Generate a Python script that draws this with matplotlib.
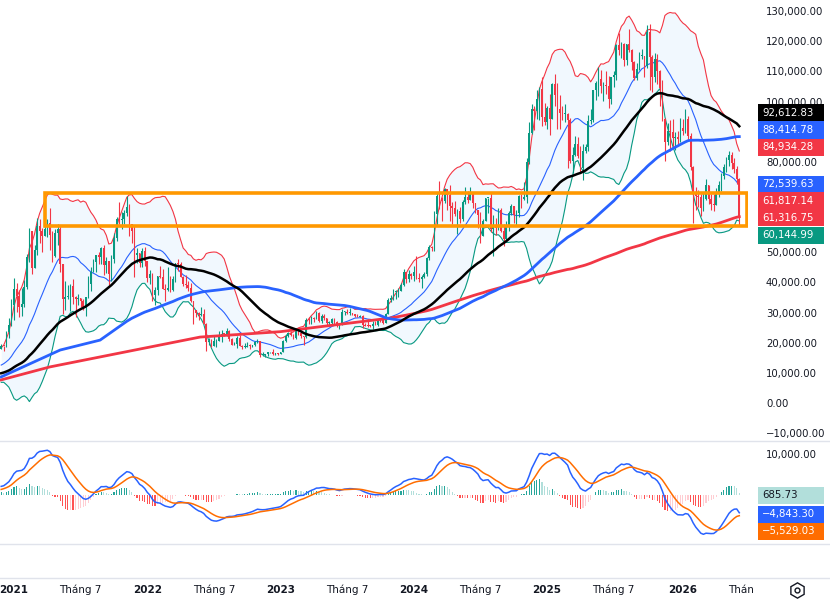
import numpy as np
import pandas as pd
import matplotlib
matplotlib.use("Agg")
import matplotlib.pyplot as plt
from matplotlib.lines import Line2D
from matplotlib.patches import Rectangle
import matplotlib.transforms as mtrans

# weekly candles, thousand USD, first bar = week of 30 Nov 2020
close_k = [
    19.36, 19.27, 23.85, 26.30, 33.00, 38.20, 35.80, 32.30, 33.10, 38.90,
    48.70, 57.50, 45.20, 51.20, 59.00, 57.50, 55.80, 58.20, 60.00, 56.20,
    49.00, 56.60, 58.20, 46.40, 34.70, 35.60, 35.80, 39.00, 35.50, 34.70,
    35.30, 34.20, 31.80, 35.40, 39.90, 43.80, 47.00, 49.30, 48.80, 51.80,
    46.10, 47.30, 43.20, 48.20, 54.90, 61.50, 61.00, 61.30, 63.30, 65.50,
    59.70, 57.30, 49.40, 50.10, 46.70, 50.80, 47.30, 41.90, 43.10, 36.30,
    37.90, 42.40, 42.20, 38.30, 37.70, 38.40, 37.80, 41.30, 46.80, 46.40,
    42.20, 39.70, 39.50, 38.50, 34.00, 31.30, 30.30, 29.50, 29.90, 26.60,
    20.60, 21.00, 19.30, 20.80, 20.80, 22.60, 23.30, 23.20, 24.30, 21.50,
    19.60, 20.00, 21.80, 19.40, 18.80, 19.00, 19.40, 19.30, 19.60, 20.60,
    20.90, 16.30, 16.30, 16.50, 17.10, 17.10, 16.70, 16.80, 16.60, 17.10,
    20.90, 22.70, 23.70, 22.90, 21.80, 24.60, 23.60, 22.40, 22.10, 28.00,
    27.90, 28.40, 28.30, 30.30, 27.60, 29.20, 28.40, 26.80, 26.80, 28.10,
    27.20, 25.80, 26.30, 30.50, 30.60, 30.20, 30.30, 29.80, 29.30, 29.00,
    29.30, 26.10, 26.00, 25.90, 25.80, 26.50, 26.30, 28.00, 27.90, 27.00,
    29.90, 34.50, 35.00, 37.10, 37.40, 37.50, 39.50, 43.80, 41.40, 43.00,
    42.30, 43.90, 41.70, 41.60, 42.00, 43.00, 48.30, 52.10, 51.70, 63.10,
    68.90, 68.40, 67.20, 71.30, 69.40, 65.70, 64.90, 63.10, 64.00, 61.50,
    66.90, 68.50, 67.80, 69.60, 66.60, 64.30, 62.70, 55.80, 60.80, 68.20,
    68.20, 58.10, 58.70, 58.40, 64.20, 57.30, 54.80, 59.10, 63.30, 65.60,
    62.80, 63.20, 69.00, 67.90, 68.80, 80.40, 89.80, 97.90, 97.20, 101.10,
    104.50, 95.10, 93.70, 98.30, 94.50, 106.10, 102.60, 97.70, 96.50, 96.10,
    96.30, 94.30, 80.70, 82.60, 86.10, 82.40, 78.40, 83.80, 85.20, 93.80,
    94.30, 104.10, 106.50, 107.80, 105.60, 105.70, 105.60, 101.00, 108.40, 109.20,
    119.10, 117.30, 119.40, 114.20, 119.30, 117.40, 113.50, 108.20, 111.10, 115.30,
    115.30, 112.20, 123.50, 115.20, 108.60, 114.50, 110.50, 104.70, 94.40, 86.80,
    90.40, 90.30, 88.20, 88.40, 87.80, 91.50, 90.50, 94.50, 89.00, 78.50,
    70.00, 69.00, 68.50, 65.00, 68.00, 72.50, 68.00, 66.50, 66.00, 70.00,
    72.50, 75.50, 78.50, 81.00, 82.50, 80.00, 78.00, 74.50, 61.80,
]
high_k = [
    19.9, 19.4, 24.3, 28.4, 34.8, 41.9, 40.0, 37.8, 38.5, 41.0,
    49.7, 58.4, 57.5, 52.6, 61.8, 61.2, 58.4, 60.0, 61.3, 64.9,
    57.5, 58.0, 59.6, 59.5, 46.6, 40.8, 39.5, 39.9, 41.3, 35.7,
    36.6, 35.1, 34.7, 35.4, 42.6, 45.3, 48.1, 49.5, 50.5, 52.0,
    52.9, 48.8, 47.4, 49.3, 56.6, 62.0, 67.0, 63.7, 64.3, 69.0,
    66.3, 59.3, 59.0, 51.9, 50.0, 51.9, 52.1, 47.5, 44.4, 43.5,
    38.9, 42.6, 45.8, 44.7, 39.8, 45.4, 42.5, 42.3, 46.9, 48.2,
    47.2, 42.4, 42.9, 40.8, 40.0, 34.3, 31.3, 30.6, 32.2, 31.6,
    26.8, 21.9, 21.5, 22.5, 21.6, 24.3, 24.6, 23.6, 25.2, 24.4,
    21.8, 20.5, 22.4, 22.8, 19.7, 20.3, 20.5, 19.9, 19.7, 21.0,
    21.5, 21.0, 17.2, 16.6, 17.4, 17.4, 18.4, 17.0, 16.9, 17.2,
    21.2, 23.3, 23.9, 24.2, 23.2, 25.2, 25.2, 23.9, 22.6, 28.4,
    28.9, 29.1, 28.8, 31.0, 30.5, 30.0, 29.8, 28.0, 27.5, 28.4,
    28.4, 27.4, 26.8, 31.4, 31.0, 31.4, 31.8, 30.3, 30.0, 30.0,
    29.6, 29.4, 26.8, 28.1, 26.1, 27.5, 27.4, 28.0, 28.6, 27.9,
    30.3, 35.2, 36.0, 38.0, 37.9, 38.4, 40.0, 44.7, 43.4, 44.3,
    43.6, 45.9, 49.0, 43.6, 42.8, 43.8, 48.6, 52.8, 52.5, 64.0,
    70.0, 73.8, 68.5, 71.7, 71.3, 72.7, 66.9, 67.2, 64.7, 65.5,
    67.7, 71.9, 70.5, 71.9, 70.0, 66.5, 63.9, 63.8, 61.5, 68.3,
    68.4, 70.0, 62.7, 61.8, 64.9, 64.9, 59.8, 60.7, 64.1, 66.5,
    64.5, 64.4, 69.4, 69.5, 73.6, 81.5, 93.4, 99.6, 98.9, 104.0,
    105.3, 108.3, 99.9, 98.9, 102.7, 106.4, 109.6, 106.5, 102.5, 98.8,
    99.5, 96.5, 95.0, 85.2, 88.8, 88.7, 85.5, 86.1, 86.4, 95.7,
    97.9, 104.3, 107.1, 111.9, 110.7, 106.8, 110.6, 108.9, 108.5, 110.6,
    119.5, 123.2, 120.2, 119.8, 119.3, 124.5, 117.6, 113.8, 113.0, 116.7,
    117.9, 113.4, 125.7, 126.2, 115.9, 116.4, 116.1, 110.9, 107.5, 95.0,
    93.1, 94.2, 94.6, 90.3, 90.6, 94.8, 94.5, 97.9, 95.5, 90.0,
    79.0, 72.0, 71.0, 69.5, 70.0, 74.5, 72.5, 69.5, 69.5, 71.5,
    74.0, 76.5, 79.5, 82.0, 84.0, 83.5, 81.5, 79.0, 75.0,
]
low_k = [
    18.1, 17.6, 19.0, 22.0, 25.9, 28.0, 30.4, 28.8, 29.3, 32.3,
    38.0, 47.0, 43.0, 45.0, 49.3, 53.3, 50.4, 55.6, 55.5, 51.0,
    47.0, 48.8, 52.9, 43.8, 30.0, 31.2, 34.8, 31.0, 33.3, 28.8,
    32.7, 32.1, 31.1, 29.3, 35.2, 37.5, 43.8, 43.9, 46.4, 46.5,
    42.8, 43.4, 39.6, 40.8, 46.9, 53.9, 59.6, 57.9, 59.6, 62.3,
    55.6, 53.3, 42.0, 46.8, 45.6, 45.6, 45.7, 40.5, 39.7, 34.0,
    32.9, 36.3, 41.7, 38.0, 34.3, 37.6, 37.2, 37.6, 40.5, 44.2,
    42.1, 39.2, 38.5, 37.6, 33.7, 26.7, 28.7, 28.0, 29.3, 26.6,
    17.6, 19.6, 18.8, 19.3, 18.9, 20.8, 20.7, 22.4, 22.7, 20.8,
    19.5, 19.5, 18.5, 19.3, 18.2, 18.5, 19.0, 18.2, 18.9, 19.2,
    20.1, 15.6, 15.8, 15.5, 16.0, 16.9, 16.3, 16.4, 16.3, 16.5,
    17.1, 20.4, 22.3, 22.6, 21.4, 21.4, 22.8, 21.9, 19.6, 21.9,
    26.6, 26.5, 27.2, 28.2, 27.1, 26.9, 27.7, 25.8, 26.1, 26.1,
    26.6, 25.4, 24.8, 26.2, 29.6, 29.7, 29.6, 29.6, 28.8, 28.7,
    28.9, 25.2, 25.8, 25.4, 25.4, 24.9, 26.1, 26.0, 27.2, 26.6,
    26.9, 29.9, 33.9, 34.5, 34.8, 35.6, 37.5, 39.1, 40.2, 40.6,
    41.5, 40.8, 41.5, 40.6, 38.5, 41.8, 42.6, 47.7, 50.6, 50.9,
    59.0, 64.6, 60.8, 66.6, 64.5, 60.7, 59.7, 62.4, 56.5, 60.2,
    60.8, 66.3, 66.7, 67.6, 64.9, 63.4, 58.5, 53.5, 55.6, 60.8,
    63.3, 57.1, 49.0, 56.2, 57.8, 57.2, 52.5, 53.6, 57.5, 62.6,
    59.9, 58.9, 62.1, 65.1, 67.5, 66.8, 79.7, 89.4, 90.8, 94.6,
    94.2, 92.2, 92.5, 91.2, 89.3, 94.5, 98.7, 91.2, 91.2, 94.1,
    93.4, 78.2, 80.1, 76.6, 82.1, 81.6, 76.6, 74.4, 83.1, 83.9,
    92.9, 93.4, 100.7, 102.0, 103.1, 100.4, 102.7, 98.2, 99.6, 105.1,
    107.5, 115.7, 114.7, 112.0, 112.6, 116.8, 110.7, 107.3, 107.3, 110.7,
    114.5, 108.6, 111.6, 104.0, 103.5, 106.9, 106.3, 98.9, 94.0, 80.6,
    85.8, 84.0, 85.3, 84.4, 86.4, 86.9, 89.3, 90.0, 87.5, 77.5,
    60.0, 64.5, 65.5, 62.5, 64.0, 67.5, 66.5, 64.5, 64.0, 66.0,
    68.5, 70.5, 74.5, 77.0, 79.0, 78.0, 76.5, 73.0, 59.5,
]
# weekly closes before the first visible bar (Dec 2019 - Nov 2020),
# only used so the indicators have a history at the left edge
warmup_k = [7.07, 7.52, 7.39, 7.76, 8.18, 8.70, 8.60, 9.34, 10.17, 9.93, 9.66, 8.56, 8.04,
            5.36, 5.83, 5.88, 6.78, 6.91, 7.12, 7.69, 8.90, 8.72, 9.67, 8.72, 9.45,
            9.66, 9.38, 9.30, 9.12, 9.07, 9.24, 9.17, 9.93, 11.07, 11.68, 11.85, 11.66, 11.71,
            10.26, 10.68, 10.92, 10.78, 10.67, 11.38, 11.50, 13.03, 13.74, 15.48, 15.97, 18.41, 18.18]

ma100_early_bars = [0, 23, 38.6]
ma100_early_k = [9.0, 17.9, 21.2]
ma200_early_bars = [0, 19, 38.6, 58, 66, 77.6, 109]
ma200_early_k = [8.0, 12.3, 15.6, 18.9, 20.2, 22.2, 24.0]

zone_low, zone_high, zone_start = 59000, 70000, 17

tick_bars = [5, 31, 57, 83, 109, 135, 161, 187, 213, 239, 266]
tick_text = ['2021', 'Tháng 7', '2022', 'Tháng 7', '2023', 'Tháng 7', '2024', 'Tháng 7', '2025', 'Tháng 7', '2026']
price_ticks = [130000, 120000, 110000, 100000, 80000, 50000, 40000, 30000, 20000, 10000, 0, -10000]
macd_ticks = [10000]

# last-value tags on the price scale: text, colour, pixel row
main_tags = [('92,612.83', '#000000', 113), ('88,414.78', '#2962FF', 130), ('84,934.28', '#F23645', 147),
             ('72,539.63', '#2962FF', 184), ('61,817.14', '#F23645', 201), ('61,316.75', '#F23645', 218),
             ('60,144.99', '#089981', 235)]
macd_tags = [('685.73', '#B2DFDB', '#131722', 495), ('\u22124,843.30', '#2962FF', 'white', 514),
             ('\u22125,529.03', '#FF6D00', 'white', 531)]

plt.rcParams['font.family'] = ['DejaVu Sans']
W, H = 830, 602
UP, DN = '#089981', '#F23645'

c = np.array(close_k) * 1000
hi = np.array(high_k) * 1000
lo = np.array(low_k) * 1000
warm = np.array(warmup_k) * 1000
o = np.concatenate([[warm[-1]], c[:-1]])
hi = np.maximum(hi, np.maximum(o, c))
lo = np.minimum(lo, np.minimum(o, c))
x = np.arange(len(c))
nw = len(warm)

full = pd.Series(np.concatenate([warm, c]))
basis = full.rolling(20).mean().values[nw:]
sd = full.rolling(20).std(ddof=0).values[nw:]
upper, lower = basis + 2 * sd, basis - 2 * sd

ma50 = full.rolling(50).mean().values[nw:]
ma100 = full.rolling(100).mean().values[nw:]
ma200 = full.rolling(200).mean().values[nw:]
ok1, ok2 = ~np.isnan(ma100), ~np.isnan(ma200)
ma100_x = np.concatenate([ma100_early_bars, x[ok1]])
ma100_y = np.concatenate([np.array(ma100_early_k) * 1000, ma100[ok1]])
ma200_x = np.concatenate([ma200_early_bars, x[ok2]])
ma200_y = np.concatenate([np.array(ma200_early_k) * 1000, ma200[ok2]])

ema12 = full.ewm(span=12, adjust=False).mean()
ema26 = full.ewm(span=26, adjust=False).mean()
macd = ema12 - ema26
signal = macd.ewm(span=9, adjust=False).mean()
hist = (macd - signal).values[nw:]
prev_hist = (macd - signal).values[nw - 1:-1]
macd, signal = macd.values[nw:], signal.values[nw:]

fig = plt.figure(figsize=(W / 100, H / 100), dpi=100)


def box(x0, y0, x1, y1):
    return [x0 / W, 1 - y1 / H, (x1 - x0) / W, (y1 - y0) / H]


ax = fig.add_axes(box(0, 0, 748, 440))
ax2 = fig.add_axes(box(0, 441, 748, 544))
for a in (ax, ax2):
    a.set_xlim(-0.47, 291.4)
    a.set_xticks([])
    a.set_yticks([])
    for s in a.spines.values():
        s.set_visible(False)
ax.set_ylim(-11940, 134000)
ax2.set_ylim(-11980, 13460)

# bollinger bands
ax.fill_between(x, lower, upper, color='#2196F3', alpha=0.06, lw=0, zorder=0)
ax.plot(x, upper, color='#F23645', lw=0.8, zorder=1)
ax.plot(x, basis, color='#2962FF', lw=0.8, zorder=1)
ax.plot(x, lower, color='#089981', lw=0.8, zorder=1)

# candles
cols = np.where(c >= o, UP, DN)
ax.vlines(x, lo, hi, colors=cols, lw=0.8, zorder=2)
ax.bar(x, np.maximum(np.abs(c - o), 300), bottom=np.minimum(o, c), width=0.62,
       color=cols, lw=0, zorder=2)

# moving averages
ax.plot(ma200_x, ma200_y, color='#F23645', lw=2, zorder=3)
ax.plot(ma100_x, ma100_y, color='#2962FF', lw=2, zorder=3)
ax.plot(x, ma50, color='#000000', lw=1.8, zorder=3)

ax.add_patch(Rectangle((zone_start, zone_low), 291.0 - zone_start, zone_high - zone_low,
                       fill=False, ec='#FF9800', lw=2.6, zorder=4))

# macd pane
hcol = np.where(hist >= 0, np.where(hist >= prev_hist, '#26A69A', '#B2DFDB'),
                np.where(hist < prev_hist, '#FF5252', '#FFCDD2'))
ax2.bar(x, hist, width=0.45, color=hcol, lw=0, zorder=1)
ax2.plot(x, macd, color='#2962FF', lw=1.1, zorder=2)
ax2.plot(x, signal, color='#FF6D00', lw=1.1, zorder=2)

# price scale
ytr = mtrans.blended_transform_factory(ax.transAxes, ax.transData)
for v in price_ticks:
    ax.text(766 / 748, v, f'{v:,.2f}'.replace('-', '\u2212'), transform=ytr, ha='left', va='center',
            fontsize=7.3, color='#131722', clip_on=False, zorder=5)
ytr2 = mtrans.blended_transform_factory(ax2.transAxes, ax2.transData)
for v in macd_ticks:
    ax2.text(766 / 748, v, f'{v:,.2f}', transform=ytr2, ha='left', va='center',
             fontsize=7.3, color='#131722', clip_on=False)

for txt, col, yp in main_tags:
    fig.patches.append(Rectangle((758 / W, 1 - (yp + 8.5) / H), 66 / W, 17 / H, fc=col, ec='none',
                                 transform=fig.transFigure, zorder=6))
    fig.text(762 / W, 1 - yp / H, txt, color='white', fontsize=7.3, ha='left', va='center', zorder=7)
for txt, col, tcol, yp in macd_tags:
    fig.patches.append(Rectangle((758 / W, 1 - (yp + 8.5) / H), 66 / W, 17 / H, fc=col, ec='none',
                                 transform=fig.transFigure, zorder=6))
    fig.text(762 / W, 1 - yp / H, txt, color=tcol, fontsize=7.3, ha='left', va='center', zorder=7)

# separators
for yp in (441, 544, 578):
    fig.add_artist(Line2D([0, 1], [1 - yp / H] * 2, color='#e0e3eb', lw=1, transform=fig.transFigure))

# time axis
xtr = mtrans.blended_transform_factory(ax.transData, fig.transFigure)
for b, t in zip(tick_bars, tick_text):
    fig.text(b, 1 - 590 / H, t, transform=xtr, ha='center', va='center', fontsize=7.5,
             color='#131722', fontweight='bold' if t[0].isdigit() else 'normal')
fig.text(728 / W, 1 - 590 / H, 'Thán', ha='left', va='center', fontsize=7.5, color='#131722')
fig.add_artist(Line2D([797 / W], [1 - 590 / H], marker='h', ms=11, mfc='none', mec='#131722',
                      mew=1, transform=fig.transFigure))
fig.add_artist(Line2D([797 / W], [1 - 590 / H], marker='o', ms=3.5, mfc='none', mec='#131722',
                      mew=1, transform=fig.transFigure))

fig.savefig('out.png', dpi=100, facecolor='white')
